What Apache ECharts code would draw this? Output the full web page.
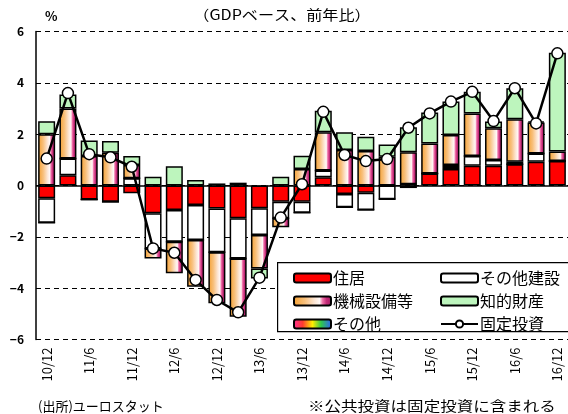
<!DOCTYPE html>
<html>
<head>
<meta charset="utf-8">
<script src="https://cdn.jsdelivr.net/npm/echarts@6/dist/echarts.min.js"></script>
<style>
  html, body { margin: 0; padding: 0; background: #fff; }
  #chart { width: 568px; height: 414px; }
</style>
</head>
<body>
<div id="chart"></div>
<script>
// 四半期 (10/12 〜 16/12)
const quarters = [
    '10/12', '11/3', '11/6', '11/9', '11/12', '12/3', '12/6', '12/9', '12/12',
    '13/3', '13/6', '13/9', '13/12', '14/3', '14/6', '14/9', '14/12',
    '15/3', '15/6', '15/9', '15/12', '16/3', '16/6', '16/9', '16/12'
];

// 寄与度 (%pt)
const housing = [-0.5, 0.4, -0.55, -0.63, -0.3, -1.08, -0.95, -0.76, -0.9, -1.28, -0.89, -0.63, -0.63,
    0.32, -0.33, -0.28, 0, 0.05, 0.47, 0.64, 0.77, 0.77, 0.83, 0.93, 0.95];
const otherConstruction = [-0.95, 0.65, 0, 0, 0.28, -1.37, -1.24, -1.36, -1.7, -1.56, -1.04, -0.65, -0.43,
    0.26, -0.52, -0.67, -0.54, 0, 0, 0.08, 0.38, 0.22, 0, 0.32, 0];
const others = [0, 0, 0, 0, 0, 0, 0, 0, 0, 0, 0, 0, 0,
    0, 0, 0, 0, -0.1, 0, 0.08, 0, 0, 0.1, 0, 0];
const machinery = [2.0, 1.95, 1.15, 1.28, 0.52, -0.39, -1.23, -1.82, -1.99, -2.27, -1.3, -0.35, 0.64,
    1.49, 1.38, 1.34, 1.12, 1.25, 1.17, 1.17, 1.66, 1.24, 1.65, 1.2, 0.37];
const intellectual = [0.5, 0.55, 0.6, 0.45, 0.35, 0.34, 0.75, 0.21, 0.08, 0.11, -0.39, 0.34, 0.52,
    0.84, 0.69, 0.56, 0.48, 0.97, 1.2, 1.3, 0.84, 0.26, 1.21, 0.05, 3.85];
// 固定投資 (前年比)
const fixedInvestment = [1.05, 3.6, 1.22, 1.1, 0.73, -2.45, -2.62, -3.68, -4.46, -4.94, -3.59, -1.25, 0.05,
    2.87, 1.19, 0.95, 1.03, 2.25, 2.81, 3.27, 3.65, 2.51, 3.79, 2.42, 5.15];

const FONT = '"Noto Sans CJK JP", "Noto Sans", sans-serif';

// orange -> white -> magenta, left to right
const machineryFill = new echarts.graphic.LinearGradient(0, 0, 1, 0, [
    { offset: 0, color: '#f5a030' },
    { offset: 0.3, color: '#f8c07c' },
    { offset: 0.55, color: '#fde6d4' },
    { offset: 0.68, color: '#fff8f6' },
    { offset: 0.76, color: '#f070a8' },
    { offset: 0.86, color: '#c42a78' },
    { offset: 1, color: '#a01e62' }
]);

const rainbowFill = new echarts.graphic.LinearGradient(0, 0, 1, 0, [
    { offset: 0, color: '#ff2f9a' },
    { offset: 0.25, color: '#ff3b2f' },
    { offset: 0.5, color: '#ffee00' },
    { offset: 0.72, color: '#2fc84a' },
    { offset: 1, color: '#2f5bff' }
]);

function barSeries(name, data, fill) {
    return {
        name: name,
        type: 'bar',
        stack: 'total',
        barWidth: 17,
        data: data,
        itemStyle: {
            color: fill,
            borderColor: '#000',
            borderWidth: 1.5
        }
    };
}

const chart = echarts.init(document.getElementById('chart'));

const housingSeries = barSeries('住居', housing, '#ff0000');
housingSeries.markLine = {
    silent: true,
    symbol: 'none',
    label: { show: false },
    lineStyle: { color: '#000', width: 1.5, type: 'solid' },
    data: [{ yAxis: 0 }]
};

const option = {
    animation: false,
    grid: { left: 36, right: -8, top: 31.5, bottom: 74.5 },
    xAxis: {
        type: 'category',
        data: quarters,
        axisLine: { show: false },
        axisTick: { show: false },
        axisLabel: {
            interval: 1,
            rotate: 90,
            margin: 8,
            color: '#000',
            fontSize: 13,
            fontFamily: FONT
        }
    },
    yAxis: {
        type: 'value',
        min: -6,
        max: 6,
        interval: 2,
        axisLine: { show: true, lineStyle: { color: '#000', width: 1.5 } },
        axisTick: { show: false },
        axisLabel: {
            margin: 12,
            color: '#000',
            fontSize: 12,
            fontWeight: 'bold',
            fontFamily: FONT,
            formatter: function (v) { return String(v).replace('-', '−'); }
        },
        splitLine: { lineStyle: { color: '#000', type: [5, 4], width: 1 } }
    },
    legend: [
        {
            data: ['住居', '機械設備等', 'その他'],
            orient: 'vertical',
            left: 288,
            top: 265,
            itemWidth: 37,
            itemHeight: 9,
            itemGap: 7,
            textStyle: { fontSize: 16, color: '#000', fontFamily: FONT, padding: [0, 0, 0, -3] }
        },
        {
            data: ['その他建設', '知的財産', '固定投資'],
            orient: 'vertical',
            left: 435,
            top: 265,
            itemWidth: 37,
            itemHeight: 9,
            itemGap: 7,
            textStyle: { fontSize: 16, color: '#000', fontFamily: FONT, padding: [0, 0, 0, -3] }
        }
    ],
    graphic: [
        {
            type: 'rect',
            left: 277, top: 262,
            shape: { width: 300, height: 69 },
            style: { fill: '#fff', stroke: '#000', lineWidth: 1.2 },
            z: 3
        },
        {
            type: 'text', x: 45, y: 16,
            style: { text: '%', font: 'bold 13px ' + FONT, fill: '#000', align: 'left', verticalAlign: 'middle' }
        },
        {
            type: 'text', x: 282, y: 15, scaleX: 1.15,
            style: { text: '（GDPベース、前年比）', font: '14px ' + FONT, fill: '#000', align: 'center', verticalAlign: 'middle' }
        },
        {
            type: 'text', x: 38, y: 406,
            style: { text: '(出所)ユーロスタット', font: '13px ' + FONT, fill: '#000', align: 'left', verticalAlign: 'middle' }
        },
        {
            type: 'text', x: 308, y: 406, scaleX: 1.18,
            style: { text: '※公共投資は固定投資に含まれる', font: '14px ' + FONT, fill: '#000', align: 'left', verticalAlign: 'middle' }
        }
    ],
    series: [
        housingSeries,
        barSeries('その他建設', otherConstruction, '#ffffff'),
        barSeries('その他', others, rainbowFill),
        barSeries('機械設備等', machinery, machineryFill),
        barSeries('知的財産', intellectual, '#bdf5bd'),
        {
            name: '固定投資',
            type: 'line',
            data: fixedInvestment,
            z: 5,
            symbol: 'circle',
            symbolSize: 11,
            lineStyle: { color: '#000', width: 2.5 },
            itemStyle: { color: '#fff', borderColor: '#000', borderWidth: 1.5 }
        }
    ]
};

chart.setOption(option);
</script>
</body>
</html>
